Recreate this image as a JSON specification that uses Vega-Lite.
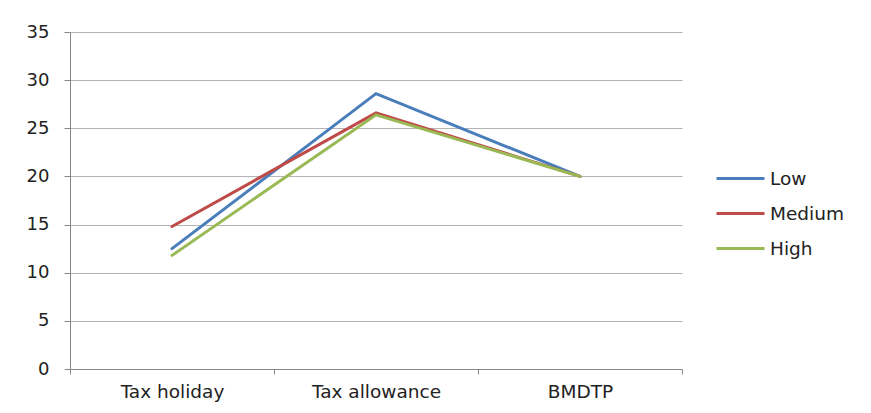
{
  "$schema": "https://vega.github.io/schema/vega-lite/v6.json",
  "width": 612,
  "height": 337,
  "autosize": {"type": "none"},
  "padding": {"left": 70, "top": 32, "right": 189, "bottom": 44},
  "background": "white",
  "config": {
    "view": {"stroke": null},
    "font": "DejaVu Sans",
    "axis": {"labelFont": "DejaVu Sans", "labelFontSize": 18, "labelColor": "#222", "titleFontSize": 15}
  },
  "data": {
    "values": [
      {"policy": "Tax holiday", "level": "Low", "value": 12.5},
      {"policy": "Tax allowance", "level": "Low", "value": 28.6},
      {"policy": "BMDTP", "level": "Low", "value": 20.0},
      {"policy": "Tax holiday", "level": "Medium", "value": 14.8},
      {"policy": "Tax allowance", "level": "Medium", "value": 26.6},
      {"policy": "BMDTP", "level": "Medium", "value": 20.0},
      {"policy": "Tax holiday", "level": "High", "value": 11.8},
      {"policy": "Tax allowance", "level": "High", "value": 26.4},
      {"policy": "BMDTP", "level": "High", "value": 20.0}
    ]
  },
  "mark": {"type": "line", "strokeWidth": 3, "strokeCap": "round"},
  "encoding": {
    "x": {
      "field": "policy",
      "type": "nominal",
      "sort": ["Tax holiday", "Tax allowance", "BMDTP"],
      "scale": {"type": "band", "paddingInner": 0, "paddingOuter": 0},
      "axis": {
        "title": null,
        "labelAngle": 0,
        "labelFontSize": 18.5,
        "tickBand": "extent",
        "tickSize": 5,
        "tickColor": "#888",
        "domainColor": "#888",
        "labelPadding": 8,
        "grid": false
      }
    },
    "y": {
      "field": "value",
      "type": "quantitative",
      "scale": {"domain": [0, 35], "nice": false},
      "axis": {
        "title": null,
        "values": [0, 5, 10, 15, 20, 25, 30, 35],
        "tickSize": 6,
        "tickColor": "#888",
        "domainColor": "#888",
        "gridColor": "#b4b4b4",
        "labelPadding": 15
      }
    },
    "color": {
      "field": "level",
      "type": "nominal",
      "sort": ["Low", "Medium", "High"],
      "scale": {"domain": ["Low", "Medium", "High"], "range": ["#4a7ebb", "#be4b48", "#98b954"]},
      "legend": {
        "title": null,
        "orient": "none",
        "legendX": 645,
        "legendY": 121,
        "symbolType": "stroke",
        "symbolSize": 2304,
        "symbolStrokeWidth": 3,
        "labelFont": "DejaVu Sans",
        "labelFontSize": 18.5,
        "labelColor": "#222",
        "labelOffset": 4,
        "rowPadding": -15,
        "padding": 0
      }
    }
  }
}
